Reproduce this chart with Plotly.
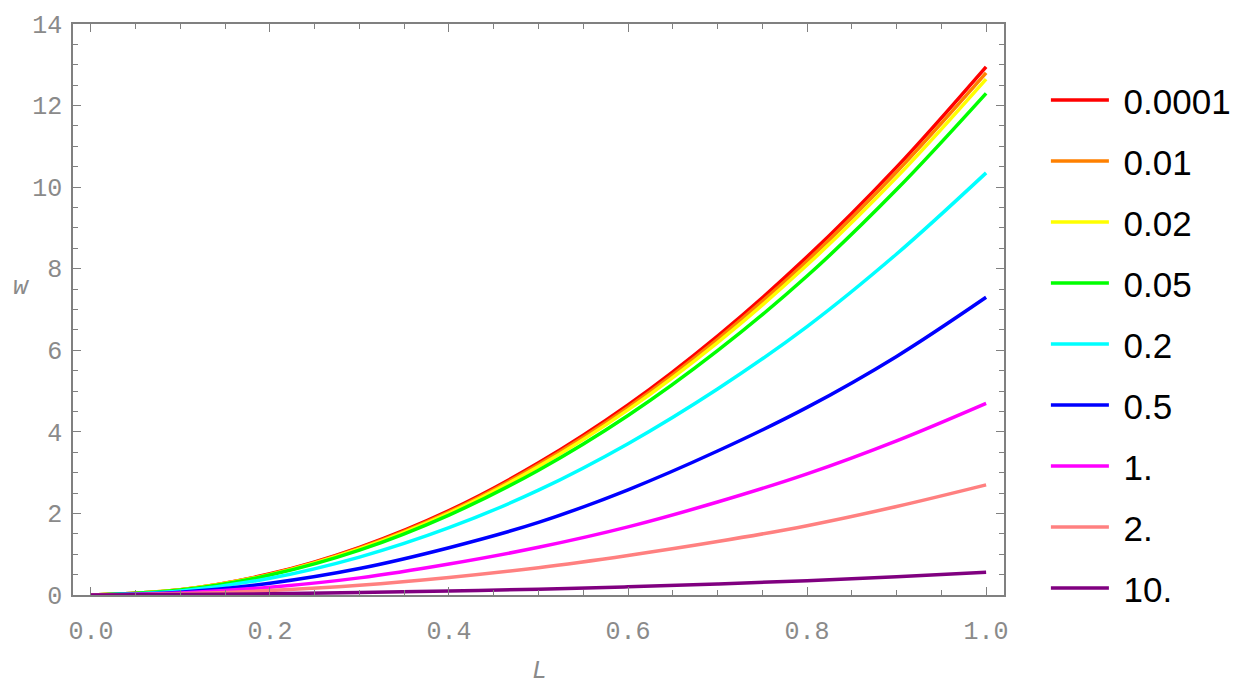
import plotly.graph_objects as go

L_vals = [0.0, 0.1, 0.2, 0.3, 0.4, 0.5, 0.6, 0.7, 0.8, 0.9, 1.0]

series_names = ["0.0001", "0.01", "0.02", "0.05", "0.2", "0.5", "1.", "2.", "10."]
series_colors = ["#FF0000", "#FF8000", "#FFFF00", "#00FF00", "#00FFFF",
                 "#0000FF", "#FF00FF", "#FF8080", "#800080"]

w_0_0001 = [0, 0.13, 0.52, 1.17, 2.07, 3.24, 4.66, 6.35, 8.29, 10.49, 12.95]
w_0_01 = [0, 0.13, 0.51, 1.15, 2.04, 3.20, 4.60, 6.27, 8.19, 10.37, 12.80]
w_0_02 = [0, 0.13, 0.50, 1.13, 2.01, 3.15, 4.54, 6.19, 8.09, 10.24, 12.65]
w_0_05 = [0, 0.12, 0.49, 1.10, 1.96, 3.06, 4.40, 5.99, 7.82, 9.94, 12.30]
w_0_2 = [0, 0.10, 0.41, 0.93, 1.65, 2.57, 3.71, 5.05, 6.58, 8.36, 10.35]
w_0_5 = [0, 0.07, 0.29, 0.65, 1.16, 1.78, 2.58, 3.53, 4.60, 5.85, 7.30]
w_1 = [0, 0.05, 0.19, 0.42, 0.76, 1.17, 1.67, 2.28, 2.97, 3.78, 4.70]
w_2 = [0, 0.03, 0.11, 0.24, 0.43, 0.67, 0.97, 1.31, 1.70, 2.17, 2.70]
w_10 = [0, 0.01, 0.03, 0.06, 0.10, 0.14, 0.20, 0.27, 0.35, 0.45, 0.56]

series_values = [w_0_0001, w_0_01, w_0_02, w_0_05, w_0_2, w_0_5, w_1, w_2, w_10]

fig = go.Figure()
for name, color, vals in zip(series_names, series_colors, series_values):
    fig.add_trace(go.Scatter(
        x=L_vals, y=vals, mode="lines", name="\u00a0" + name,
        legendgroup=name,
        line=dict(color=color, width=3.5, shape="spline", smoothing=1.0),
    ))

tick_font = dict(family="Liberation Mono", size=25, color="#8a8a8a")
axis_common = dict(
    showline=True, linecolor="#808080", linewidth=1.5, mirror="allticks",
    ticks="inside", ticklen=8, tickwidth=1.2, tickcolor="#808080",
    showgrid=False, zeroline=False, tickfont=tick_font,
)

fig.update_xaxes(
    range=[-0.02, 1.02], tickvals=[0, 0.2, 0.4, 0.6, 0.8, 1.0],
    ticktext=["0.0", "0.2", "0.4", "0.6", "0.8", "1.0"],
    minor=dict(ticks="inside", ticklen=5, tickwidth=1, tickcolor="#808080", dtick=0.05, tick0=0, showgrid=False),
    ticklabelstandoff=12,
    **axis_common,
)
fig.update_yaxes(
    range=[0, 14], tickvals=[0, 2, 4, 6, 8, 10, 12, 14],
    minor=dict(ticks="inside", ticklen=5, tickwidth=1, tickcolor="#808080", dtick=0.5, tick0=0, showgrid=False),
    ticklabelstandoff=4,
    **axis_common,
)

fig.add_annotation(text="<i>w</i>", x=-0.0665, y=0.538, xref="paper", yref="paper",
                   showarrow=False, font=dict(family="Liberation Mono", size=25, color="#8a8a8a"))
fig.add_annotation(text="<i>L</i>", x=0.5016, y=-0.130, xref="paper", yref="paper",
                   yanchor="middle", yshift=-2,
                   showarrow=False, font=dict(family="Liberation Mono", size=25, color="#8a8a8a"))

fig.update_layout(
    width=1255, height=696,
    margin=dict(l=73, r=251, t=20, b=101),
    plot_bgcolor="white", paper_bgcolor="white",
    legend=dict(
        x=1.045, xanchor="left", y=0.918, yanchor="top",
        font=dict(family="Liberation Sans", size=35, color="black"),
        tracegroupgap=12.5, itemwidth=58, traceorder="grouped",
        bgcolor="rgba(0,0,0,0)",
    ),
)

fig.write_html("out.html")
